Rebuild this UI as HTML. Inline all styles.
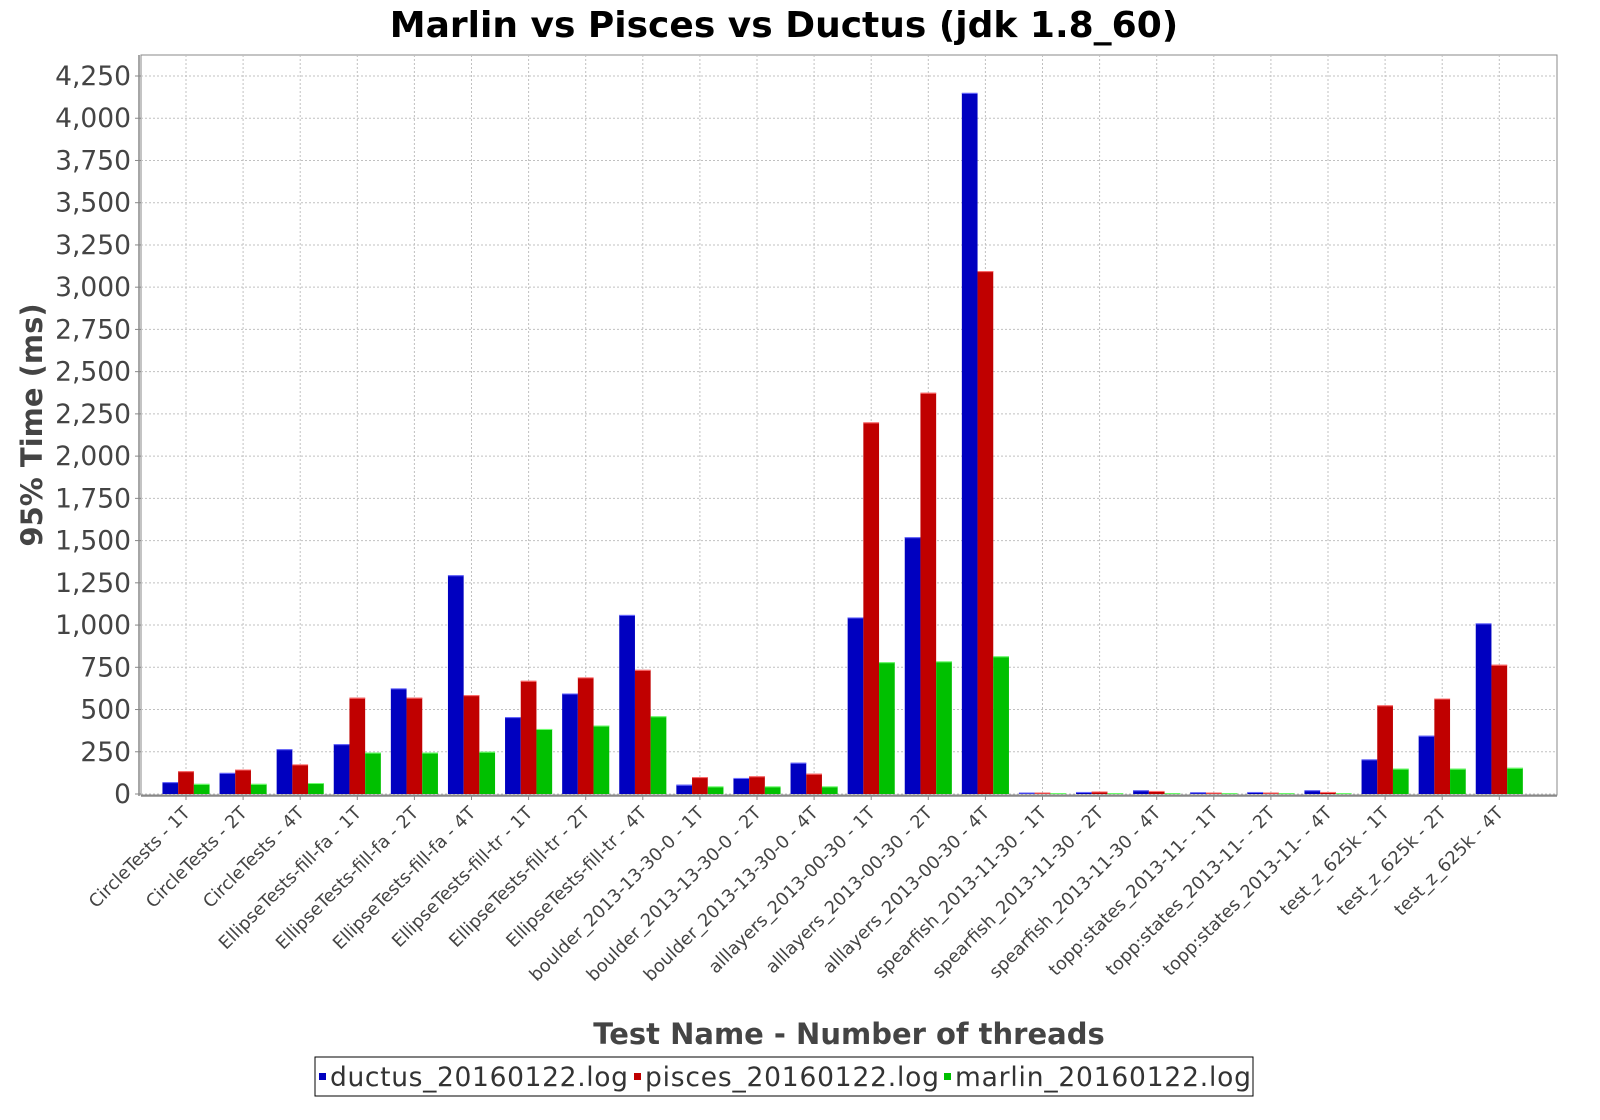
<!DOCTYPE html>
<html><head><meta charset="utf-8"><style>
html,body{margin:0;padding:0;background:#fff;width:1600px;height:1120px;overflow:hidden}
text{font-family:"DejaVu Sans","Liberation Sans",sans-serif;fill:#444}
</style></head><body>
<svg id="chart" width="1600" height="1120" xmlns="http://www.w3.org/2000/svg">
<text x="784" y="37" text-anchor="middle" font-size="36" font-weight="bold" style="fill:#000">Marlin vs Pisces vs Ductus (jdk 1.8_60)</text>
<g id="grid"></g>
<g id="bars"></g>
<g id="axes"></g>
<text transform="translate(42,425) rotate(-90)" text-anchor="middle" font-size="29" font-weight="bold">95% Time (ms)</text>
<text x="849" y="1044" text-anchor="middle" font-size="29" font-weight="bold">Test Name - Number of threads</text>
<g>
<rect x="315" y="1057" width="938" height="39" fill="#fff" stroke="#000" stroke-width="1"/>
<g><rect x="319" y="1073" width="7" height="7" fill="#0000c0"/><text x="330" y="1086" font-size="26.5" textLength="298" style="fill:#333">ductus_20160122.log</text></g>
<g><rect x="634" y="1073" width="7" height="7" fill="#c00000"/><text x="645" y="1086" font-size="26.5" textLength="294" style="fill:#333">pisces_20160122.log</text></g>
<g><rect x="944" y="1073" width="7" height="7" fill="#00c000"/><text x="955" y="1086" font-size="26.5" textLength="296" style="fill:#333">marlin_20160122.log</text></g>
</g>
</svg>
<script>
const categories=["CircleTests - 1T","CircleTests - 2T","CircleTests - 4T","EllipseTests-fill-fa - 1T","EllipseTests-fill-fa - 2T","EllipseTests-fill-fa - 4T","EllipseTests-fill-tr - 1T","EllipseTests-fill-tr - 2T","EllipseTests-fill-tr - 4T","boulder_2013-13-30-0 - 1T","boulder_2013-13-30-0 - 2T","boulder_2013-13-30-0 - 4T","alllayers_2013-00-30 - 1T","alllayers_2013-00-30 - 2T","alllayers_2013-00-30 - 4T","spearfish_2013-11-30 - 1T","spearfish_2013-11-30 - 2T","spearfish_2013-11-30 - 4T","topp:states_2013-11- - 1T","topp:states_2013-11- - 2T","topp:states_2013-11- - 4T","test_z_625k - 1T","test_z_625k - 2T","test_z_625k - 4T"];
const ductus=[70,125,265,295,625,1295,455,595,1060,55,95,185,1045,1520,4150,8,12,22,10,12,22,205,345,1010];
const pisces=[135,145,175,570,570,585,670,690,735,100,105,120,2200,2375,3095,8,15,18,8,8,12,525,565,765];
const marlin=[60,60,65,245,245,250,385,405,460,45,45,45,780,785,815,5,5,5,5,5,5,150,150,155];
const yTicks=[0,250,500,750,1000,1250,1500,1750,2000,2250,2500,2750,3000,3250,3500,3750,4000,4250];
const NS="http://www.w3.org/2000/svg";
const L=141,R=1557,T=55,B=795;
const y=v=>794-v*(718/4250);
const x=i=>186+i*57.1;
const BW=15.7;
function mk(t,a,p){const e=document.createElementNS(NS,t);for(const k in a)e.setAttribute(k,a[k]);p.appendChild(e);return e;}
const grid=document.getElementById('grid'),bars=document.getElementById('bars'),axes=document.getElementById('axes');
mk('rect',{x:L,y:T,width:R-L,height:B-T,fill:'#fff',stroke:'#888','stroke-width':1},grid);
yTicks.forEach(v=>{
 const g=mk('line',{x1:L,x2:R,y1:y(v),y2:y(v),stroke:'#c0c0c0','stroke-dasharray':'2,2'},grid);
 
 
 const t=mk('text',{x:131,y:y(v)+9,'text-anchor':'end','font-size':26.5},axes);
 
 
 t.textContent=v.toLocaleString('en-US');
 mk('line',{x1:135,x2:141,y1:y(v),y2:y(v),stroke:'#888'},axes);
});
categories.forEach((c,i)=>{
 const gl=mk('line',{x1:x(i),x2:x(i),y1:T,y2:B,stroke:'#c0c0c0','stroke-dasharray':'2,2'},grid);
 
 
 mk('line',{x1:x(i),x2:x(i),y1:B+1,y2:B+5,stroke:'#888'},axes);
 const t=mk('text',{transform:`translate(${x(i)+5},${B+19}) rotate(-45)`,'text-anchor':'end','font-size':17.8},axes);
 
 
 t.textContent=c;
 [[ductus,'#0000c0','#6b6bff'],[pisces,'#c00000','#ff7070'],[marlin,'#00c000','#70ff70']].forEach((s,j)=>{
  const v=s[0][i],bx=x(i)-1.5*BW+j*BW;
  const r=mk('rect',{x:bx,y:y(v),width:BW,height:794-y(v),fill:s[1]},bars);
  
  
  mk('line',{x1:bx,x2:bx+BW,y1:y(v)+0.5,y2:y(v)+0.5,stroke:s[2]},bars);
 });
});
mk('line',{x1:L,x2:R,y1:B+1,y2:B+1,stroke:'#888','stroke-width':1.5},axes);
mk('line',{x1:L-2,x2:L-2,y1:T,y2:B+1,stroke:'#888','stroke-width':1.5},axes);
</script>
</body></html>
